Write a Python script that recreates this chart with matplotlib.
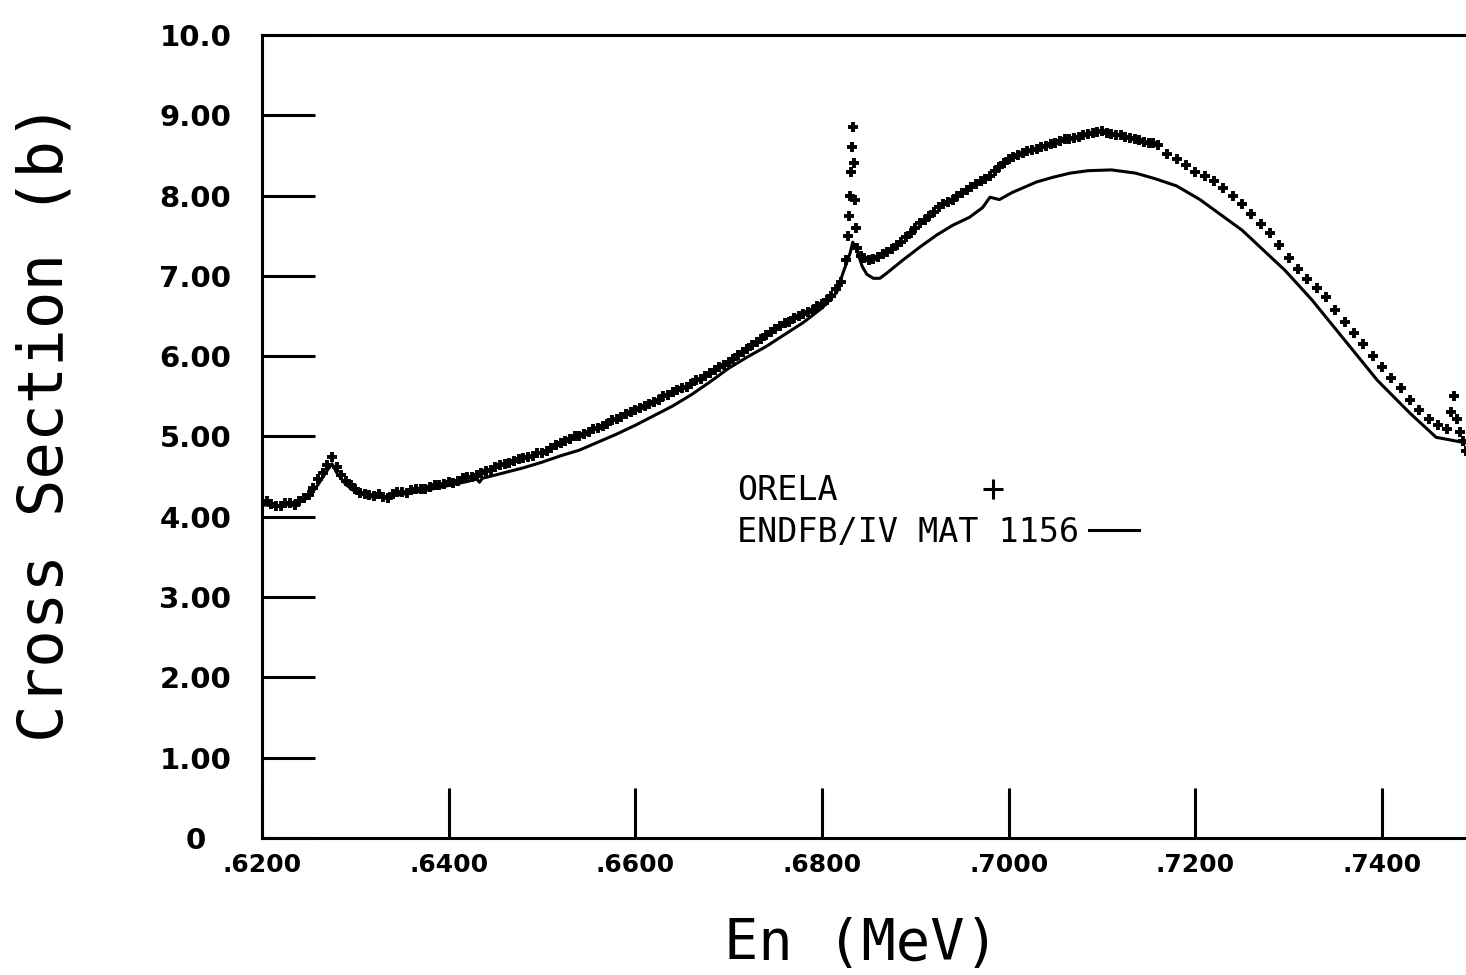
import matplotlib
matplotlib.use('Agg')
import matplotlib.pyplot as plt
from matplotlib.lines import Line2D

# ORELA measured total cross section (MeV, barns)
orela_e = [0.620, 0.6205, 0.621, 0.6215, 0.622, 0.6225, 0.623, 0.6235, 0.624, 0.6245,
           0.625, 0.6255, 0.626, 0.6265, 0.627, 0.6275, 0.628, 0.6285, 0.629, 0.6295,
           0.630, 0.6305, 0.631, 0.6315, 0.632, 0.6325, 0.633, 0.6335, 0.634, 0.6345,
           0.635, 0.6355, 0.636, 0.6365, 0.637, 0.6375, 0.638, 0.6385, 0.639, 0.6395,
           0.640, 0.6405, 0.641, 0.6415, 0.642, 0.6425, 0.643, 0.6435, 0.644, 0.6445,
           0.645, 0.6455, 0.646, 0.6465, 0.647, 0.6475, 0.648, 0.6485, 0.649, 0.6495,
           0.650, 0.6505, 0.651, 0.6515, 0.652, 0.6525, 0.653, 0.6535, 0.654, 0.6545,
           0.655, 0.6555, 0.656, 0.6565, 0.657, 0.6575, 0.658, 0.6585, 0.659, 0.6595,
           0.660, 0.6605, 0.661, 0.6615, 0.662, 0.6625, 0.663, 0.6635, 0.664, 0.6645,
           0.665, 0.6655, 0.666, 0.6665, 0.667, 0.6675, 0.668, 0.6685, 0.669, 0.6695,
           0.670, 0.6705, 0.671, 0.6715, 0.672, 0.6725, 0.673, 0.6735, 0.674, 0.6745,
           0.675, 0.6755, 0.676, 0.6765, 0.677, 0.6775, 0.678, 0.6785, 0.679, 0.6795,
           0.680, 0.6805, 0.681, 0.6815, 0.682, 0.6826, 0.6828, 0.6829, 0.6830, 0.6831,
           0.6832, 0.6833, 0.6834, 0.6835, 0.6836, 0.6838, 0.6842, 0.6845, 0.685, 0.6855,
           0.686, 0.6865, 0.687, 0.6875, 0.688, 0.6885, 0.689, 0.6895, 0.690, 0.6905,
           0.691, 0.6915, 0.692, 0.6925, 0.693, 0.6935, 0.694, 0.6945, 0.695, 0.6955,
           0.696, 0.6965, 0.697, 0.6975, 0.698, 0.6985, 0.699, 0.6995, 0.700, 0.7005,
           0.701, 0.7015, 0.702, 0.7025, 0.703, 0.7035, 0.704, 0.7045, 0.705, 0.7055,
           0.706, 0.7065, 0.707, 0.7075, 0.708, 0.7085, 0.709, 0.7095, 0.710, 0.7105,
           0.711, 0.7115, 0.712, 0.7125, 0.713, 0.7135, 0.714, 0.7145, 0.715, 0.7155,
           0.716, 0.717, 0.718, 0.719, 0.720, 0.721, 0.722, 0.723, 0.724, 0.725,
           0.726, 0.727, 0.728, 0.729, 0.730, 0.731, 0.732, 0.733, 0.734, 0.735,
           0.736, 0.737, 0.738, 0.739, 0.740, 0.741, 0.742, 0.743, 0.744, 0.745,
           0.746, 0.747, 0.7474, 0.7477, 0.748, 0.7484, 0.7487, 0.749]
orela_xs = [4.18, 4.20, 4.16, 4.13, 4.14, 4.17, 4.17, 4.15, 4.20, 4.24,
            4.27, 4.36, 4.47, 4.55, 4.64, 4.74, 4.62, 4.52, 4.45, 4.40,
            4.35, 4.30, 4.29, 4.27, 4.26, 4.28, 4.25, 4.24, 4.29, 4.31,
            4.31, 4.30, 4.33, 4.35, 4.35, 4.34, 4.37, 4.39, 4.40, 4.41,
            4.43, 4.42, 4.45, 4.48, 4.49, 4.50, 4.52, 4.55, 4.57, 4.58,
            4.62, 4.65, 4.66, 4.67, 4.69, 4.72, 4.73, 4.74, 4.76, 4.79,
            4.80, 4.82, 4.86, 4.90, 4.92, 4.94, 4.97, 5.00, 5.01, 5.03,
            5.06, 5.09, 5.11, 5.13, 5.16, 5.20, 5.22, 5.24, 5.28, 5.31,
            5.33, 5.35, 5.38, 5.41, 5.43, 5.46, 5.50, 5.52, 5.55, 5.58,
            5.60, 5.62, 5.66, 5.70, 5.72, 5.75, 5.79, 5.83, 5.86, 5.89,
            5.93, 5.97, 6.01, 6.05, 6.09, 6.14, 6.18, 6.22, 6.26, 6.30,
            6.34, 6.38, 6.41, 6.43, 6.47, 6.50, 6.53, 6.55, 6.58, 6.62,
            6.65, 6.70, 6.75, 6.84, 6.93, 7.20, 7.50, 7.75, 8.00, 8.30,
            8.60, 8.85, 8.40, 7.95, 7.60, 7.35, 7.25, 7.22, 7.20, 7.21,
            7.24, 7.27, 7.30, 7.33, 7.38, 7.42, 7.48, 7.53, 7.60, 7.66,
            7.70, 7.74, 7.80, 7.86, 7.90, 7.92, 7.95, 7.99, 8.03, 8.07,
            8.11, 8.15, 8.18, 8.21, 8.25, 8.31, 8.36, 8.40, 8.45, 8.48,
            8.51, 8.53, 8.55, 8.57, 8.58, 8.60, 8.62, 8.64, 8.66, 8.68,
            8.70, 8.71, 8.72, 8.73, 8.75, 8.77, 8.78, 8.79, 8.80, 8.78,
            8.77, 8.76, 8.75, 8.73, 8.72, 8.71, 8.69, 8.67, 8.66, 8.65,
            8.63, 8.52, 8.45, 8.38, 8.30, 8.24, 8.18, 8.09, 8.00, 7.89,
            7.77, 7.65, 7.53, 7.38, 7.22, 7.08, 6.96, 6.85, 6.74, 6.58,
            6.43, 6.29, 6.15, 6.00, 5.87, 5.73, 5.60, 5.46, 5.33, 5.22,
            5.14, 5.09, 5.30, 5.50, 5.22, 5.05, 4.95, 4.82]

# ENDF/B-IV MAT 1156 evaluation
endf_e = [0.620, 0.622, 0.624, 0.625, 0.626, 0.627, 0.6275, 0.628, 0.629, 0.630,
          0.632, 0.634, 0.636, 0.638, 0.640, 0.642, 0.643, 0.6433, 0.6436, 0.645,
          0.648, 0.650, 0.652, 0.654, 0.656, 0.658, 0.660, 0.662, 0.664, 0.666,
          0.668, 0.670, 0.672, 0.674, 0.676, 0.678, 0.680, 0.681, 0.6816, 0.6822,
          0.683, 0.6833, 0.6838, 0.6843, 0.6848, 0.6855, 0.6862, 0.687, 0.6887, 0.6905,
          0.6923, 0.694, 0.6958, 0.6972, 0.6980, 0.6990, 0.7004, 0.703, 0.7048, 0.7066,
          0.7085, 0.711, 0.7136, 0.7157, 0.718, 0.7205, 0.725, 0.7296, 0.7325, 0.736,
          0.7395, 0.743, 0.7458, 0.749]
endf_xs = [4.15, 4.13, 4.18, 4.24, 4.40, 4.58, 4.66, 4.55, 4.40, 4.31,
           4.24, 4.26, 4.30, 4.34, 4.39, 4.44, 4.47, 4.43, 4.48, 4.52,
           4.61, 4.68, 4.76, 4.83, 4.93, 5.03, 5.14, 5.26, 5.38, 5.52,
           5.68, 5.85, 5.99, 6.12, 6.27, 6.42, 6.60, 6.72, 6.80, 7.02,
           7.28, 7.42, 7.30, 7.12, 7.02, 6.97, 6.97, 7.04, 7.20, 7.36,
           7.51, 7.63, 7.73, 7.85, 7.98, 7.95, 8.04, 8.17, 8.23, 8.28,
           8.31, 8.32, 8.28, 8.21, 8.12, 7.95, 7.57, 7.07, 6.70, 6.20,
           5.70, 5.29, 4.99, 4.92]

xtick_vals = [0.62, 0.64, 0.66, 0.68, 0.70, 0.72, 0.74]
xtick_labels = ['.6200', '.6400', '.6600', '.6800', '.7000', '.7200', '.7400']
ytick_vals = [0, 1, 2, 3, 4, 5, 6, 7, 8, 9, 10]
ytick_labels = ['0', '1.00', '2.00', '3.00', '4.00', '5.00', '6.00', '7.00',
                '8.00', '9.00', '10.0']

W, H = 1466, 975
fig = plt.figure(figsize=(W / 100, H / 100), dpi=100)
ax = fig.add_axes([262 / W, 1 - 838 / H, 1 - 262 / W, (838 - 35) / H])

ax.plot(endf_e, endf_xs, color='black', lw=2.2)
ax.plot(orela_e, orela_xs, ls='none', marker='+', ms=7, mew=2.8, color='black')

ax.set_xlim(0.62, 0.749)
ax.set_ylim(0, 10)

ax.set_xticks(xtick_vals, xtick_labels)
ax.set_yticks(ytick_vals, ytick_labels)
ax.tick_params(axis='x', direction='in', length=36, width=2.2, pad=11, labelsize=18)
ax.tick_params(axis='y', direction='in', length=38, width=2.2, pad=48, labelsize=21)
for lbl in ax.get_xticklabels():
    lbl.set_fontweight('bold')
for lbl in ax.get_yticklabels():
    lbl.set_fontweight('bold')
    lbl.set_horizontalalignment('center')

ax.spines['right'].set_visible(False)
for s in ['left', 'bottom', 'top']:
    ax.spines[s].set_linewidth(2.2)

ax.set_xlabel('En (MeV)', family='DejaVu Sans Mono', fontsize=41, va='center')
ax.xaxis.set_label_coords(0.498, -0.133)
ax.set_ylabel('Cross Section (b)', family='DejaVu Sans Mono', fontsize=45,
              va='center', ha='center')
ax.yaxis.set_label_coords(-0.18, 0.518)

# two legends so the text starts at the same x and the symbols follow it
leg_font = {'family': 'DejaVu Sans Mono', 'size': 24}
h1 = Line2D([], [], ls='none', marker='+', ms=14, mew=2.2, color='black')
leg1 = ax.legend([h1], ['ORELA'], loc='upper left', bbox_to_anchor=(0.3945, 0.453),
                 frameon=False, markerfirst=False, prop=leg_font, borderpad=0,
                 borderaxespad=0, handlelength=1.5, handletextpad=3.9)
ax.add_artist(leg1)
h2 = Line2D([], [], color='black', lw=2.2)
ax.legend([h2], ['ENDFB/IV MAT 1156'], loc='upper left', bbox_to_anchor=(0.3945, 0.401),
          frameon=False, markerfirst=False, prop=leg_font, borderpad=0,
          borderaxespad=0, handlelength=1.5, handletextpad=0.3)

fig.savefig('out.png', dpi=100)
